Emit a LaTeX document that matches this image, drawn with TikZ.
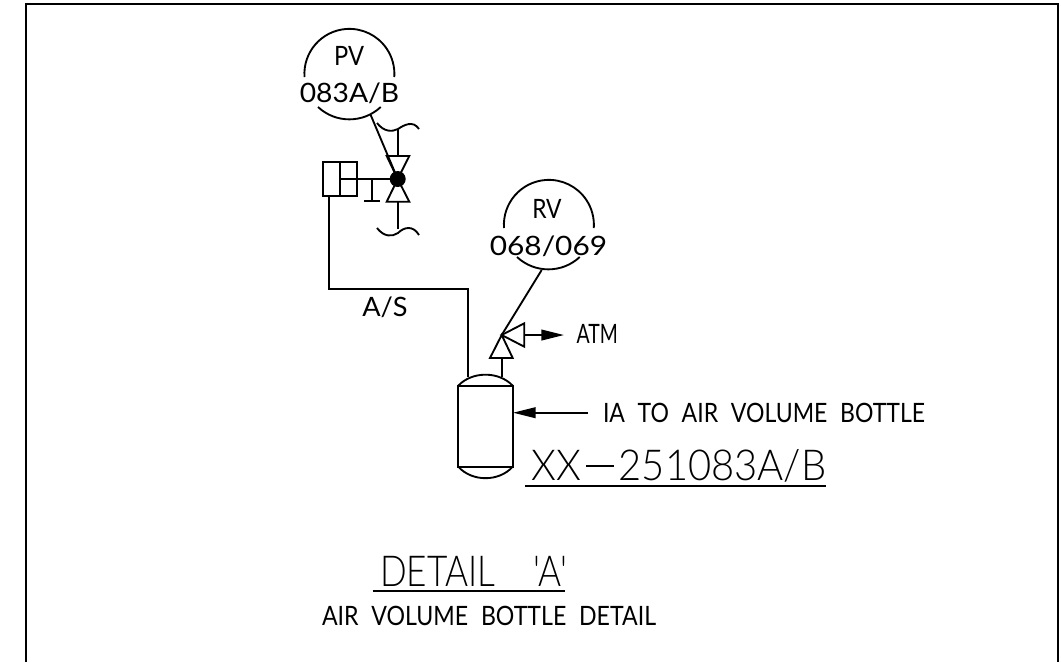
\documentclass[tikz,border=0pt]{standalone}
\usepackage{fontspec}
\usepackage{graphicx}
\setmainfont{Lato}
\newfontfamily\cadlight{Lato}[UprightFont=* Light]
\usetikzlibrary{arrows.meta}
\newcommand{\cadw}[2]{\resizebox{#1pt}{\height}{#2}}
\newcommand{\gp}{\hspace{0.55em}}
\tikzset{
 ln/.style={line width=1.4pt,black},
 lbl/.style={inner sep=0pt,outer sep=0pt,anchor=base,font=\fontsize{20}{20}\selectfont},
 big/.style={inner sep=0pt,outer sep=0pt,anchor=base,font=\cadlight\fontsize{32}{32}\selectfont}
}
\begin{document}
\begin{tikzpicture}[x=0.75pt,y=-0.75pt]
\useasboundingbox (0,0) rectangle (1061,662);
\coordinate (fTL) at (25.5,3.5); \coordinate (fTR) at (1058,3.5);
\coordinate (fBL) at (25.5,662); \coordinate (fBR) at (1058,662);
\draw[line width=1.5pt] (fBL) -- (fTL) -- (fTR) -- (fBR);
% PV bubble
\draw[ln] (304.5,77) arc[start angle=176,end angle=364,radius=45];
\draw[ln] (318,107) arc[start angle=133,end angle=47,radius=46];
\node[lbl] (pvA) at (349,65) {\cadw{22.5}{PV}};
\node[lbl] (pvB) at (349.5,102) {\cadw{74.5}{083A/B}};
\coordinate (pvOut) at (370.7,115);
\coordinate (dot) at (397.7,179);
\draw[ln] (pvOut) -- (dot);
% valve
\draw[ln] (dot) -- (386.7,156) -- (409.3,156) -- cycle;
\draw[ln] (dot) -- (386.7,201.7) -- (409.3,201.7) -- cycle;
\fill (dot) circle (8);
\draw[ln] (397.7,156) -- (397.7,129);
\draw[ln] (397.7,201.7) -- (397.7,229);
\draw[ln] (377,123) .. controls (384,132) and (392,132) .. (398,129) .. controls (404,125) and (413,120) .. (419,129);
\draw[ln] (377,228) .. controls (384,237) and (392,237) .. (398,233) .. controls (404,227) and (413,225) .. (419,235);
% actuator
\draw[ln] (322.7,161.7) rectangle (357,196);
\draw[ln] (340.3,161.7) -- (340.3,196);
\draw[ln] (340.3,179) -- (dot);
\draw[ln] (372,179) -- (372,200.7);
\draw[ln] (364,200.7) -- (380,200.7);
% A/S
\draw[ln] (329,196) -- (329,289) -- (468.3,289) -- (468.3,377);
\node[lbl] (as) at (385,316) {\cadw{34}{A/S}};
% bottle
\draw[ln] (458.3,385.7) rectangle (512.7,466.7);
\draw[ln] (458.3,385.7) .. controls (472,371) and (499,371) .. (512.7,385.7);
\draw[ln] (458.3,466.7) .. controls (472,482) and (499,482) .. (512.7,466.7);
% relief
\coordinate (rv) at (501.7,335);
\draw[ln] (501.7,377) -- (501.7,358);
\draw[ln] (rv) -- (490,358) -- (512.7,358) -- cycle;
\draw[ln] (rv) -- (524.3,323.3) -- (524.3,346.7) -- cycle;
\draw[ln] (541.7,270) -- (rv);
\draw[ln,-{Triangle[length=17pt,width=8pt]}] (524.3,335) -- (564,335);
\draw[ln,-{Triangle[length=17pt,width=8pt]}] (588,412.7) -- (513,412.7);
\node[lbl] (atm) at (597.3,343) {\cadw{31}{ATM}};
\node[lbl] (ia) at (764,422) {\cadw{241.5}{IA\gp TO\gp AIR\gp VOLUME\gp BOTTLE}};
% RV bubble
\draw[ln] (504,228) arc[start angle=176,end angle=364,radius=45];
\draw[ln] (517,257) arc[start angle=133,end angle=47,radius=46];
\node[lbl] (rvA) at (547,218) {\cadw{22}{RV}};
\node[lbl] (rvB) at (548.5,255) {\cadw{88}{068/069}};
% titles
\node[big] (tag) at (679,480) {\cadw{221}{XX\hspace{0.12em}\rule[0.3em]{0.7em}{0.05em}\hspace{0.12em}251083A/B}};
\draw[ln] (525,485.7) -- (826,485.7);
\node[big] (det) at (473.5,586.7) {\cadw{140}{DETAIL\gp\gp 'A'}};
\draw[ln] (372.7,590.7) -- (565,590.7);
\node[lbl] (sub) at (489,625.7) {\cadw{250.5}{AIR\gp VOLUME\gp BOTTLE\gp DETAIL}};
\end{tikzpicture}
\end{document}
